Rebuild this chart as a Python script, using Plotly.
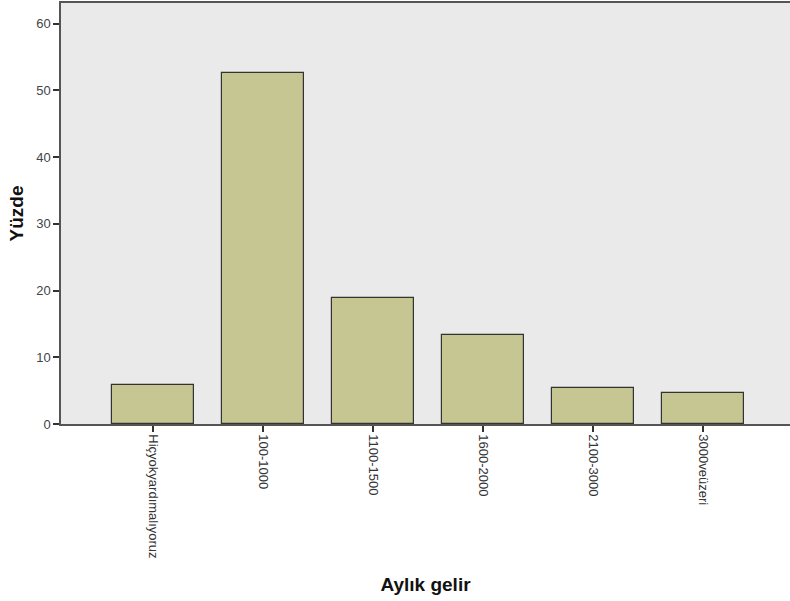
import plotly.graph_objects as go

categories = ["Hiçyokyardımalıyoruz", "100-1000", "1100-1500", "1600-2000", "2100-3000", "3000veüzeri"]
values = [5.8, 52.6, 18.9, 13.3, 5.4, 4.6]
y_ticks = [0, 10, 20, 30, 40, 50, 60]

fig = go.Figure(go.Bar(
    x=list(range(len(categories))),
    y=values,
    width=0.745,
    marker=dict(color="#C6C692", line=dict(color="#333333", width=1.2)),
))

fig.update_layout(
    width=790, height=601,
    margin=dict(l=61, r=0, t=3, b=177, autoexpand=False),
    paper_bgcolor="white",
    plot_bgcolor="#EAEAEA",
    font=dict(family="Liberation Sans, Arial, sans-serif", color="#333333"),
    showlegend=False,
    bargap=0,
)
fig.update_xaxes(
    automargin=False,
    range=[-0.836, 5.79],
    tickmode="array",
    tickvals=list(range(len(categories))),
    ticktext=categories,
    tickangle=90,
    ticks="outside", ticklen=6, tickcolor="#333333", tickwidth=1.5,
    tickfont=dict(size=13, color="#333333"),
    showline=True, linecolor="#555555", linewidth=1.5, mirror=True,
    showgrid=False, zeroline=False,
    title=dict(text="<b>Aylık gelir</b>", font=dict(size=19, color="#111111"), standoff=20),
)
fig.update_yaxes(
    automargin=False,
    range=[0, 63.1],
    tickmode="array",
    tickvals=y_ticks,
    ticks="outside", ticklen=6, tickcolor="#333333", tickwidth=1.5,
    tickfont=dict(size=13, color="#444444"),
    showline=True, linecolor="#555555", linewidth=1.5,
    showgrid=False, zeroline=False,
    title=dict(text="<b>Yüzde</b>", font=dict(size=19, color="#111111"), standoff=8),
)

fig.write_html(
    "out.html",
    config={"displayModeBar": False},
    post_script="document.body.style.margin='0';document.body.style.overflow='hidden';",
)
